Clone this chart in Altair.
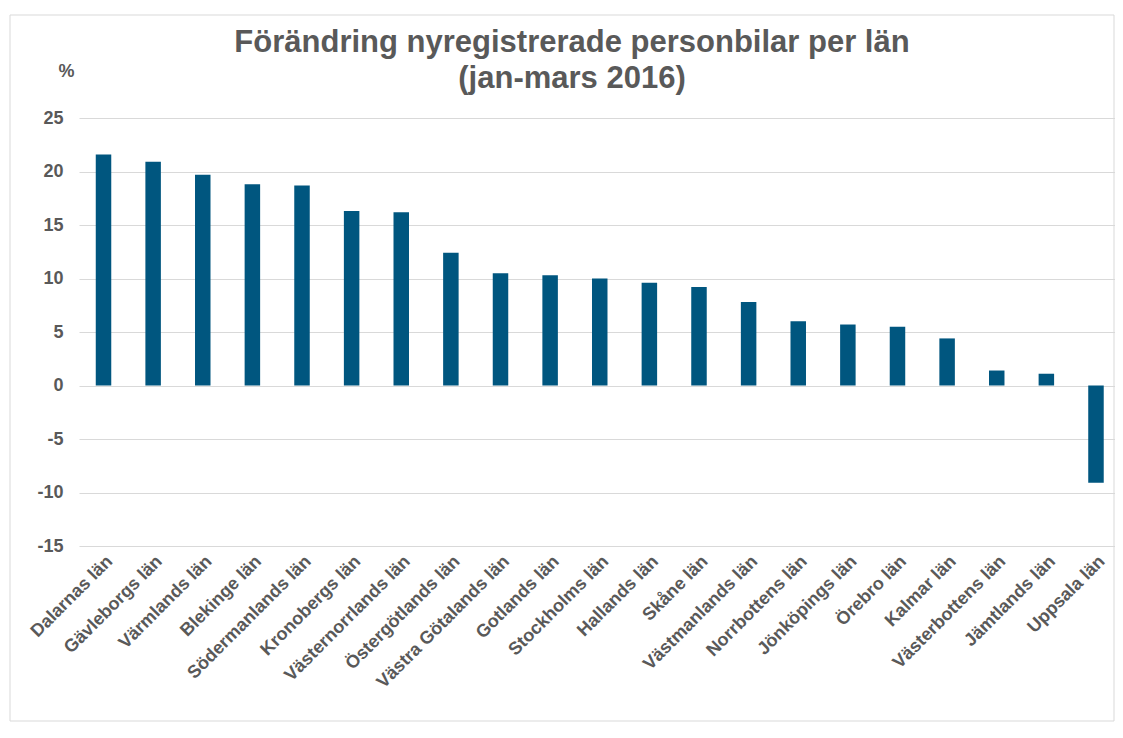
import altair as alt
import pandas as pd

lan = [
    "Dalarnas län", "Gävleborgs län", "Värmlands län", "Blekinge län",
    "Södermanlands län", "Kronobergs län", "Västernorrlands län",
    "Östergötlands län", "Västra Götalands län", "Gotlands län",
    "Stockholms län", "Hallands län", "Skåne län", "Västmanlands län",
    "Norrbottens län", "Jönköpings län", "Örebro län", "Kalmar län",
    "Västerbottens län", "Jämtlands län", "Uppsala län",
]
values = [21.6, 20.9, 19.7, 18.8, 18.7, 16.3, 16.2, 12.4, 10.5, 10.3, 10.0,
          9.6, 9.2, 7.8, 6.0, 5.7, 5.5, 4.4, 1.4, 1.1, -9.1]
y_ticks = [-15, -10, -5, 0, 5, 10, 15, 20, 25]

title_lines = ["Förändring nyregistrerade personbilar per län", "(jan-mars 2016)"]

df = pd.DataFrame({"lan": lan, "value": values})

FONT = "Liberation Sans"
GREY = "#595959"
W, H = 1036, 428

bars = alt.Chart(df).mark_bar(color="#00567f").encode(
    x=alt.X(
        "lan:N",
        sort=lan,
        scale=alt.Scale(paddingInner=0.6877, paddingOuter=0.2824, align=0.598),
        axis=alt.Axis(
            title=None, labelAngle=-45, labelFontSize=18, labelFont=FONT,
            labelFontWeight="bold", labelColor=GREY, ticks=False, domain=False,
            labelPadding=6, grid=False,
        ),
    ),
    y=alt.Y(
        "value:Q",
        scale=alt.Scale(domain=[-15, 25], nice=False, zero=False),
        axis=alt.Axis(
            values=y_ticks, labelExpr="datum.value + ''",
            title="%", titleAngle=0, titleX=-13, titleY=-47,
            titleAlign="center", titleBaseline="middle", titleFont=FONT,
            titleFontSize=18, titleFontWeight="bold", titleColor=GREY,
            labelFont=FONT, labelFontSize=18, labelFontWeight="bold",
            labelColor=GREY, grid=True, gridColor="#d9d9d9", gridWidth=1.2,
            domain=False, ticks=False, labelPadding=16,
        ),
    ),
)

border = alt.Chart(pd.DataFrame({"a": [0]})).mark_rect(
    fillOpacity=0, stroke="#d9d9d9", strokeWidth=1
).encode(
    x=alt.value(-69), x2=alt.value(1035), y=alt.value(-103), y2=alt.value(603)
)

chart = alt.layer(border, bars).properties(
    width=W,
    height=H,
    autosize=alt.AutoSizeParams(type="none"),
    padding={"left": 71, "top": 110, "right": 0, "bottom": 184},
    title=alt.TitleParams(
        text=title_lines, fontSize=31, font=FONT, fontWeight="bold",
        color=GREY, lineHeight=36, anchor="middle", dx=-25,
        baseline="bottom", offset=-111,
    ),
).configure_view(stroke=None)

chart.save("out.html", embed_options={"renderer": "svg", "actions": False})
